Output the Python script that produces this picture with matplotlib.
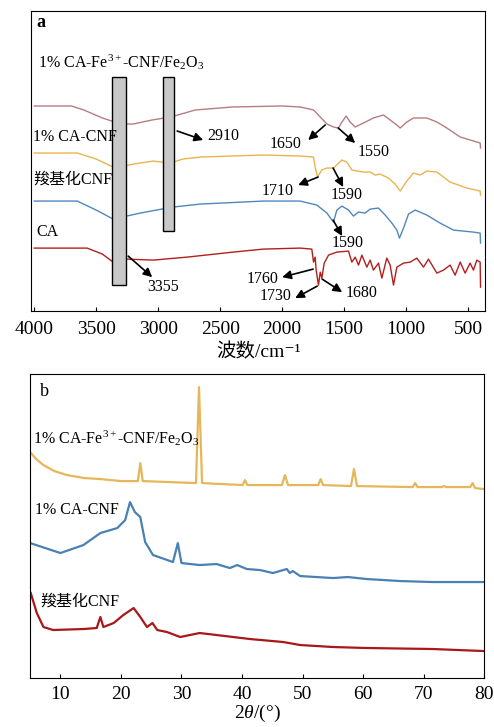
import numpy as np
import matplotlib
matplotlib.use('Agg')
import matplotlib.pyplot as plt
from matplotlib.patches import Rectangle

plt.rcParams['font.family'] = ['Liberation Serif', 'Noto Sans CJK SC', 'DejaVu Serif']
plt.rcParams['mathtext.fontset'] = 'custom'
plt.rcParams['mathtext.rm'] = 'Liberation Serif'
plt.rcParams['mathtext.it'] = 'Liberation Serif:italic'

# ---- FTIR (panel a), intensity in arbitrary units, already stacked ----
wn_fe = [4000, 3700, 3600, 3450, 3300, 3200, 3050, 2900, 2700, 2400, 2000, 1855, 1747, 1693,
         1639, 1586, 1546, 1518, 1484, 1452, 1411, 1344, 1264, 1183, 1129, 1075, 1048, 994,
         941, 833, 752, 672, 564, 457, 403, 400]
ir_fe = [205, 205, 201, 193, 187, 187, 191, 194, 201, 204, 205, 204, 201, 194,
         187, 184, 183, 189, 195, 189, 184, 188, 193, 196, 191, 186, 183, 189,
         193, 193, 189, 183, 174, 170, 168, 163]

wn_cacnf = [4000, 3653, 3500, 3347, 3200, 3040, 2903, 2800, 2661, 2153, 1855, 1747, 1734, 1715,
            1680, 1639, 1586, 1518, 1478, 1438, 1344, 1290, 1250, 1210, 1143, 1089, 1048, 994,
            941, 887, 833, 752, 645, 510, 403, 400]
ir_cacnf = [158, 158, 152, 143, 147, 150, 148, 152, 154, 156, 155, 154, 144, 134,
            141, 143, 143, 151, 149, 141, 139, 139, 136, 137, 133, 127, 120, 130,
            138, 136, 140, 139, 129, 123, 120, 116]

wn_cnf = [4000, 3653, 3500, 3363, 3145, 2927, 2879, 2661, 2153, 1855, 1720, 1639, 1586, 1559,
          1518, 1465, 1425, 1384, 1331, 1290, 1223, 1169, 1115, 1075, 1054, 1021, 981, 927,
          833, 726, 618, 457, 403, 400]
ir_cnf = [110, 110, 101, 92, 98, 103, 104, 107, 110, 110, 106, 98, 89, 101,
          105, 101, 95, 99, 98, 102, 103, 96, 88, 81, 73, 83, 97, 101,
          96, 88, 81, 79, 78, 68]

wn_ca = [4000, 3573, 3450, 3363, 3250, 3040, 2766, 2395, 2153, 1855, 1761, 1747, 1734, 1726,
         1707, 1693, 1680, 1661, 1626, 1559, 1465, 1438, 1411, 1384, 1357, 1317, 1290, 1264,
         1223, 1196, 1156, 1129, 1102, 1075, 1021, 967, 914, 860, 820, 752, 699, 645,
         605, 564, 524, 484, 457, 430, 403, 400]
ir_ca = [63, 63, 57, 49, 52, 51, 54, 59, 62, 63, 62, 49, 54, 41,
         26, 39, 33, 48, 56, 59, 60, 49, 54, 46, 56, 44, 51, 41,
         48, 33, 53, 46, 26, 44, 48, 49, 53, 44, 52, 38, 41, 46,
         36, 49, 38, 48, 41, 51, 49, 24]

# ---- XRD (panel b) ----
tt_fe = [5.0, 6.0, 7.2, 9.0, 11.1, 14.0, 16.6, 20.0, 22.8, 23.2, 23.6, 28.0, 32.4, 32.9,
         33.4, 40.1, 40.5, 40.9, 46.6, 47.1, 47.6, 52.6, 53.0, 53.4, 58.0, 58.5, 59.0, 68.2,
         68.6, 69.0, 73.0, 73.4, 73.8, 77.7, 78.1, 78.5, 80.0]
xr_fe = [226, 219, 213, 207, 203, 200, 199, 197, 197, 215, 197, 196, 195, 291,
         195, 193, 198, 193, 193, 203, 193, 193, 199, 193, 192, 209, 192, 191,
         195, 191, 191, 192, 191, 191, 195, 190, 189]

tt_cacnf = [5.0, 7.5, 10.0, 13.8, 16.6, 19.4, 20.7, 21.5, 22.3, 23.2, 24.0, 25.3, 28.6, 29.4,
            30.0, 33.0, 35.8, 38.0, 39.2, 40.8, 43.0, 45.1, 47.4, 47.9, 48.4, 49.6, 55.0, 57.5,
            60.6, 66.1, 71.5, 79.8]
xr_cacnf = [135, 130, 125, 133, 145, 150, 158, 176, 166, 161, 136, 123, 116, 135,
            115, 113, 114, 110, 113, 109, 108, 105, 109, 105, 107, 102, 100, 101,
            99, 97, 96, 96]

tt_cnf = [5.1, 6.1, 7.2, 8.8, 13.8, 16.0, 16.6, 17.1, 18.8, 20.4, 22.1, 23.2, 24.3, 25.2,
          26.0, 27.6, 29.8, 33.0, 35.8, 41.3, 46.8, 49.6, 55.0, 60.6, 71.5, 79.8]
xr_cnf = [85, 65, 51, 48, 49, 50, 61, 51, 55, 63, 70, 61, 51, 55,
          48, 46, 41, 45, 43, 39, 36, 33, 31, 30, 29, 27]

ir_labels = ['1% CA-Fe$^{3+}$-CNF/Fe$_2$O$_3$', '1% CA-CNF', '羧基化CNF', 'CA']
xrd_labels = ['1% CA-Fe$^{3+}$-CNF/Fe$_2$O$_3$', '1% CA-CNF', '羧基化CNF']
ir_ticks = [4000, 3500, 3000, 2500, 2000, 1500, 1000, 500]
xrd_ticks = [10, 20, 30, 40, 50, 60, 70, 80]

fig = plt.figure(figsize=(4.94, 7.27), dpi=100)
ax1 = fig.add_axes([0.063, 0.572, 0.919, 0.413])
ax2 = fig.add_axes([0.061, 0.0674, 0.919, 0.418])

# panel a
ax1.plot(wn_fe, ir_fe, color='#b87c82', lw=1.0)
ax1.plot(wn_cacnf, ir_cacnf, color='#e6b550', lw=1.0)
ax1.plot(wn_cnf, ir_cnf, color='#4f88bb', lw=1.0)
ax1.plot(wn_ca, ir_ca, color='#b41e1e', lw=1.0)

ax1.add_patch(Rectangle((3371, 26), 3258 - 3371, 234 - 26, facecolor='#c8c8c8',
                        edgecolor='black', lw=1.0, zorder=3))
ax1.add_patch(Rectangle((2960, 80), 2871 - 2960, 234 - 80, facecolor='#c8c8c8',
                        edgecolor='black', lw=1.0, zorder=3))

ax1.set_xlim(4025, 363)
ax1.set_ylim(0, 300)
ax1.set_xticks(ir_ticks)
ax1.set_yticks([])
ax1.tick_params(axis='x', direction='in', labelsize=14, length=3, pad=7)
ax1.set_xlabel('波数/cm\u207b\u00b9', fontsize=14, labelpad=4)

ax1.text(3984, 288, 'a', fontsize=13, fontweight='bold', va='center', ha='left')
ax1.text(3968, 249, ir_labels[0], fontsize=11.5, va='center', ha='left', zorder=5)
ax1.text(4008, 174, ir_labels[1], fontsize=11.5, va='center', ha='left', zorder=5)
ax1.text(4008, 131, ir_labels[2], fontsize=11.5, va='center', ha='left', zorder=5)
ax1.text(3984, 79, ir_labels[3], fontsize=11.5, va='center', ha='left', zorder=5)

arrows = [
    ('2910', (2847, 180), (2637, 171), (2605, 175), 'left'),
    ('1650', (1653, 186), (1790, 171), (1976, 167), 'center'),
    ('1550', (1548, 183), (1411, 168), (1266, 159), 'center'),
    ('1710', (1710, 134), (1871, 126), (2040, 120), 'center'),
    ('1590', (1589, 143), (1508, 124), (1476, 116), 'center'),
    ('1590', (1589, 91), (1516, 75), (1468, 68), 'center'),
    ('3355', (3242, 55), (3048, 34), (2960, 24), 'center'),
    ('1760', (1750, 42), (2000, 34), (2161, 32), 'center'),
    ('1730', (1718, 25), (1895, 13), (2056, 15), 'center'),
    ('1680', (1677, 32), (1516, 19), (1363, 18), 'center'),
]
for txt, start, end, pos, ha in arrows:
    ax1.annotate('', xy=end, xytext=start,
                 arrowprops=dict(arrowstyle='-|>', color='black', lw=1.2,
                                 mutation_scale=13, shrinkA=0, shrinkB=0), zorder=6)
    ax1.text(pos[0], pos[1], txt, fontsize=11.5, ha=ha, va='center', zorder=6)

# panel b
ax2.plot(tt_fe, xr_fe, color='#e6b75a', lw=1.6)
ax2.plot(tt_cacnf, xr_cacnf, color='#4a80b2', lw=1.6)
ax2.plot(tt_cnf, xr_cnf, color='#a81818', lw=1.6)

ax2.set_xlim(5, 80)
ax2.set_ylim(0, 304)
ax2.set_xticks(xrd_ticks)
ax2.set_yticks([])
ax2.tick_params(axis='x', direction='in', labelsize=14, length=3, pad=6)
ax2.set_xlabel('2$\\mathit{\\theta}$/(°)', fontsize=14, labelpad=0)

ax2.text(6.65, 287, 'b', fontsize=13, va='center', ha='left')
ax2.text(5.5, 240, xrd_labels[0], fontsize=11.5, va='center', ha='left')
ax2.text(5.8, 168, xrd_labels[1], fontsize=11.5, va='center', ha='left')
ax2.text(6.65, 76, xrd_labels[2], fontsize=11.5, va='center', ha='left')

fig.savefig('out.png', dpi=100)
